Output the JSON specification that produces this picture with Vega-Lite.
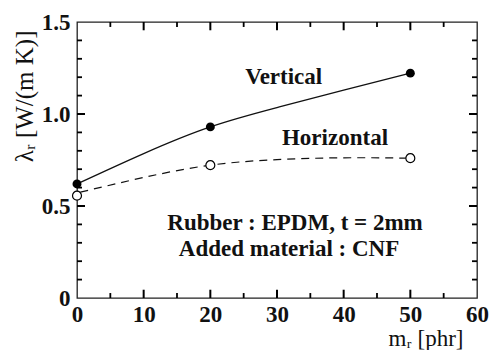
{
  "$schema": "https://vega.github.io/schema/vega-lite/v6.json",
  "width": 400,
  "height": 276,
  "autosize": "none",
  "padding": {"left": 77, "top": 22, "right": 14, "bottom": 52},
  "background": "white",
  "config": {
    "view": {"stroke": "#222", "strokeWidth": 1.3},
    "font": "Liberation Serif"
  },
  "datasets": {
    "points": [
      {"mr": 0, "lambda": 0.62, "dir": "Vertical"},
      {"mr": 20, "lambda": 0.93, "dir": "Vertical"},
      {"mr": 50, "lambda": 1.222, "dir": "Vertical"},
      {"mr": 0, "lambda": 0.556, "dir": "Horizontal"},
      {"mr": 20, "lambda": 0.722, "dir": "Horizontal"},
      {"mr": 50, "lambda": 0.76, "dir": "Horizontal"}
    ],
    "curves": [
      {"mr": 0, "lambda": 0.62, "dir": "Vertical"},
      {"mr": 10, "lambda": 0.785, "dir": "Vertical"},
      {"mr": 20, "lambda": 0.93, "dir": "Vertical"},
      {"mr": 30, "lambda": 1.035, "dir": "Vertical"},
      {"mr": 40, "lambda": 1.13, "dir": "Vertical"},
      {"mr": 50, "lambda": 1.222, "dir": "Vertical"},
      {"mr": 0.5, "lambda": 0.575, "dir": "Horizontal"},
      {"mr": 10, "lambda": 0.655, "dir": "Horizontal"},
      {"mr": 20, "lambda": 0.722, "dir": "Horizontal"},
      {"mr": 30, "lambda": 0.752, "dir": "Horizontal"},
      {"mr": 40, "lambda": 0.762, "dir": "Horizontal"},
      {"mr": 50, "lambda": 0.76, "dir": "Horizontal"}
    ],
    "labels": [
      {"mr": 31, "lambda": 1.2, "text": "Vertical"},
      {"mr": 38.7, "lambda": 0.87, "text": "Horizontal"},
      {"mr": 32.7, "lambda": 0.41, "text": "Rubber : EPDM, t = 2mm"},
      {"mr": 31.8, "lambda": 0.265, "text": "Added material : CNF"}
    ],
    "xticks": [
      {"mr": 10, "kind": "major"}, {"mr": 20, "kind": "major"}, {"mr": 30, "kind": "major"},
      {"mr": 40, "kind": "major"}, {"mr": 50, "kind": "major"},
      {"mr": 5, "kind": "minor"}, {"mr": 15, "kind": "minor"}, {"mr": 25, "kind": "minor"},
      {"mr": 35, "kind": "minor"}, {"mr": 45, "kind": "minor"}, {"mr": 55, "kind": "minor"}
    ],
    "yticks": [
      {"lambda": 0.5, "kind": "major"}, {"lambda": 1.0, "kind": "major"},
      {"lambda": 0.1, "kind": "minor"}, {"lambda": 0.2, "kind": "minor"}, {"lambda": 0.3, "kind": "minor"},
      {"lambda": 0.4, "kind": "minor"}, {"lambda": 0.6, "kind": "minor"}, {"lambda": 0.7, "kind": "minor"},
      {"lambda": 0.8, "kind": "minor"}, {"lambda": 0.9, "kind": "minor"}, {"lambda": 1.1, "kind": "minor"},
      {"lambda": 1.2, "kind": "minor"}, {"lambda": 1.3, "kind": "minor"}, {"lambda": 1.4, "kind": "minor"}
    ]
  },
  "layer": [
    {
      "data": {"name": "curves"},
      "transform": [{"filter": "datum.dir == 'Vertical'"}],
      "mark": {"type": "line", "interpolate": "natural", "color": "#111", "strokeWidth": 1.3},
      "encoding": {
        "x": {
          "field": "mr", "type": "quantitative",
          "scale": {"domain": [0, 60], "nice": false},
          "axis": {
            "orient": "bottom", "values": [0, 10, 20, 30, 40, 50, 60], "grid": false, "domain": false,
            "ticks": false, "labelPadding": 5, "labelFlush": false,
            "labelFont": "Liberation Serif", "labelFontSize": 23, "labelFontWeight": "bold", "labelColor": "#111",
            "title": "mᵣ [phr]", "titleFont": "Liberation Serif", "titleFontSize": 23, "titleFontWeight": "normal", "titleColor": "#111",
            "titleAnchor": "end", "titleBaseline": "alphabetic", "titleX": 386, "titleY": 47
          }
        },
        "y": {
          "field": "lambda", "type": "quantitative",
          "scale": {"domain": [0, 1.5], "nice": false},
          "axis": {
            "orient": "left", "values": [0, 0.5, 1, 1.5], "grid": false, "domain": false,
            "ticks": false, "labelPadding": 7, "labelFlush": false,
            "labelFont": "Liberation Serif", "labelFontSize": 23, "labelFontWeight": "bold", "labelColor": "#111",
            "labelExpr": "datum.value == 0 ? '0' : format(datum.value, '.1f')",
            "title": "λᵣ [W/(m K)]", "titleFont": "Liberation Serif", "titleFontSize": 25, "titleFontWeight": "normal", "titleColor": "#111",
            "titleAnchor": "end", "titlePadding": 4, "titleY": 8
          }
        }
      }
    },
    {
      "data": {"name": "curves"},
      "transform": [{"filter": "datum.dir == 'Horizontal'"}],
      "mark": {"type": "line", "interpolate": "natural", "color": "#111", "strokeWidth": 1.2, "strokeDash": [8, 6]},
      "encoding": {
        "x": {"field": "mr", "type": "quantitative"},
        "y": {"field": "lambda", "type": "quantitative"}
      }
    },
    {
      "data": {"name": "points"},
      "transform": [{"filter": "datum.dir == 'Vertical'"}],
      "mark": {"type": "point", "shape": "circle", "filled": true, "color": "#000", "size": 80, "opacity": 1},
      "encoding": {
        "x": {"field": "mr", "type": "quantitative"},
        "y": {"field": "lambda", "type": "quantitative"}
      }
    },
    {
      "data": {"name": "points"},
      "transform": [{"filter": "datum.dir == 'Horizontal'"}],
      "mark": {"type": "point", "shape": "circle", "filled": true, "fill": "white", "stroke": "#000", "strokeWidth": 1.2, "size": 80, "opacity": 1},
      "encoding": {
        "x": {"field": "mr", "type": "quantitative"},
        "y": {"field": "lambda", "type": "quantitative"}
      }
    },
    {
      "data": {"name": "labels"},
      "mark": {"type": "text", "font": "Liberation Serif", "fontSize": 23, "fontWeight": "bold", "color": "#111", "align": "center", "baseline": "middle"},
      "encoding": {
        "x": {"field": "mr", "type": "quantitative"},
        "y": {"field": "lambda", "type": "quantitative"},
        "text": {"field": "text"}
      }
    },
    {
      "data": {"name": "xticks"},
      "transform": [{"filter": "datum.kind == 'major'"}],
      "mark": {"type": "rule", "color": "#000", "strokeWidth": 2},
      "encoding": {
        "x": {"field": "mr", "type": "quantitative"},
        "y": {"datum": 0},
        "y2": {"datum": 0.045}
      }
    },
    {
      "data": {"name": "xticks"},
      "transform": [{"filter": "datum.kind == 'minor'"}],
      "mark": {"type": "rule", "color": "#000", "strokeWidth": 1.8},
      "encoding": {
        "x": {"field": "mr", "type": "quantitative"},
        "y": {"datum": 0},
        "y2": {"datum": 0.027}
      }
    },
    {
      "data": {"name": "xticks"},
      "transform": [{"filter": "datum.kind == 'major'"}],
      "mark": {"type": "rule", "color": "#000", "strokeWidth": 2},
      "encoding": {
        "x": {"field": "mr", "type": "quantitative"},
        "y": {"datum": 1.5},
        "y2": {"datum": 1.455}
      }
    },
    {
      "data": {"name": "xticks"},
      "transform": [{"filter": "datum.kind == 'minor'"}],
      "mark": {"type": "rule", "color": "#000", "strokeWidth": 1.8},
      "encoding": {
        "x": {"field": "mr", "type": "quantitative"},
        "y": {"datum": 1.5},
        "y2": {"datum": 1.473}
      }
    },
    {
      "data": {"name": "yticks"},
      "transform": [{"filter": "datum.kind == 'major'"}],
      "mark": {"type": "rule", "color": "#000", "strokeWidth": 2},
      "encoding": {
        "y": {"field": "lambda", "type": "quantitative"},
        "x": {"datum": 0},
        "x2": {"datum": 1.2}
      }
    },
    {
      "data": {"name": "yticks"},
      "transform": [{"filter": "datum.kind == 'minor'"}],
      "mark": {"type": "rule", "color": "#000", "strokeWidth": 1.8},
      "encoding": {
        "y": {"field": "lambda", "type": "quantitative"},
        "x": {"datum": 0},
        "x2": {"datum": 0.75}
      }
    },
    {
      "data": {"name": "yticks"},
      "transform": [{"filter": "datum.kind == 'major'"}],
      "mark": {"type": "rule", "color": "#000", "strokeWidth": 2},
      "encoding": {
        "y": {"field": "lambda", "type": "quantitative"},
        "x": {"datum": 60},
        "x2": {"datum": 58.8}
      }
    },
    {
      "data": {"name": "yticks"},
      "transform": [{"filter": "datum.kind == 'minor'"}],
      "mark": {"type": "rule", "color": "#000", "strokeWidth": 1.8},
      "encoding": {
        "y": {"field": "lambda", "type": "quantitative"},
        "x": {"datum": 60},
        "x2": {"datum": 59.25}
      }
    }
  ]
}
